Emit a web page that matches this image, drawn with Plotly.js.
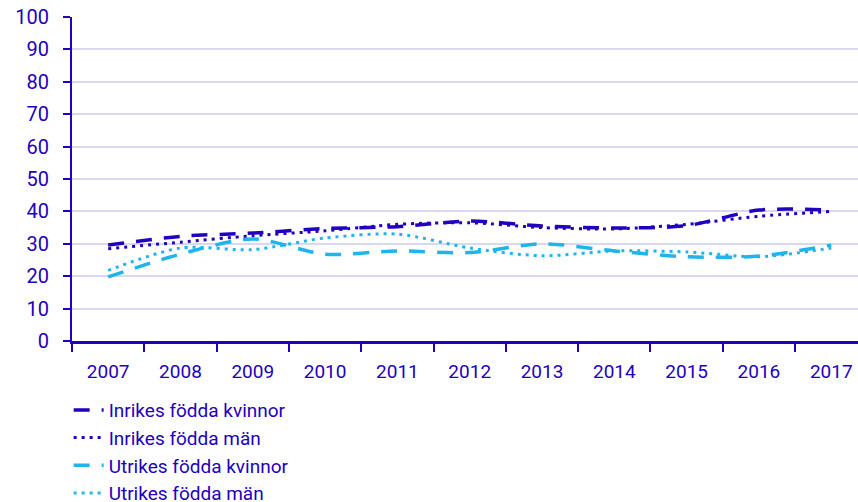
<!DOCTYPE html>
<html><head><meta charset="utf-8">
<script src="https://cdn.plot.ly/plotly-3.0.1.min.js"></script>
<style>html,body{margin:0;padding:0;background:#fff}#chart{width:858px;height:502px}</style>
</head><body><div id="chart"></div>
<script>
const years = ['2007','2008','2009','2010','2011','2012','2013','2014','2015','2016','2017'];
const inrikesKvinnor = [29.6, 32.3, 33.3, 34.7, 35.3, 37.0, 35.5, 34.9, 35.6, 40.4, 40.4];
const inrikesMan     = [28.5, 30.5, 32.5, 34.0, 36.0, 36.5, 35.0, 34.6, 36.0, 38.5, 40.0];
const utrikesKvinnor = [19.8, 26.8, 31.5, 26.8, 27.8, 27.3, 30.0, 27.8, 26.0, 26.2, 29.6];
const utrikesMan     = [21.8, 28.7, 28.2, 31.8, 33.0, 28.7, 26.3, 27.8, 27.5, 26.0, 28.7];
const seriesNames = ['Inrikes födda kvinnor','Inrikes födda män','Utrikes födda kvinnor','Utrikes födda män'];

const dark = '#2200C0';
const light = '#1FB5EA';
const styles = [
  {color: dark, dash: '16px,12px', width: 3.5},
  {color: dark, dash: '3px,5px', width: 3},
  {color: light, dash: '16px,12px', width: 3.5},
  {color: light, dash: '3px,5px', width: 3}
];
const values = [inrikesKvinnor, inrikesMan, utrikesKvinnor, utrikesMan];
const traces = values.map((v, i) => ({
  type: 'scatter', mode: 'lines', x: years, y: v, name: seriesNames[i],
  line: {color: styles[i].color, dash: styles[i].dash, width: styles[i].width, shape: 'spline', smoothing: 0.8}
}));

const layout = {
  width: 858, height: 502,
  margin: {l: 72, r: 0, t: 17, b: 161, autoexpand: false},
  paper_bgcolor: '#fff', plot_bgcolor: '#fff',
  font: {family: 'Roboto, sans-serif', size: 20, color: dark},
  showlegend: true,
  legend: {xref: 'container', yref: 'container', x: 0.08, xanchor: 'left', y: 0.221, yanchor: 'top',
           orientation: 'v', traceorder: 'normal',
           font: {size: 19, color: dark}, bgcolor: 'rgba(0,0,0,0)'},
  xaxis: {type: 'category', range: [-0.5, 10.37], tickson: 'boundaries', ticks: 'outside', ticklen: 8,
          tickwidth: 2, tickcolor: dark, showline: true, linecolor: dark, linewidth: 3,
          showgrid: false, zeroline: false, ticklabelstandoff: 11, fixedrange: true,
          tickfont: {family: '"Liberation Sans Narrow", "Roboto", sans-serif', size: 19, color: dark}},
  yaxis: {range: [0, 100], dtick: 10, ticks: 'outside', ticklen: 7, tickwidth: 2, tickcolor: dark,
          showline: true, linecolor: dark, linewidth: 2, showgrid: true, gridcolor: '#D8D8F2', gridwidth: 2,
          zeroline: false, ticklabelstandoff: 10, fixedrange: true},
  hovermode: false
};
Plotly.newPlot('chart', traces, layout, {staticPlot: true, displayModeBar: false});
</script></body></html>
